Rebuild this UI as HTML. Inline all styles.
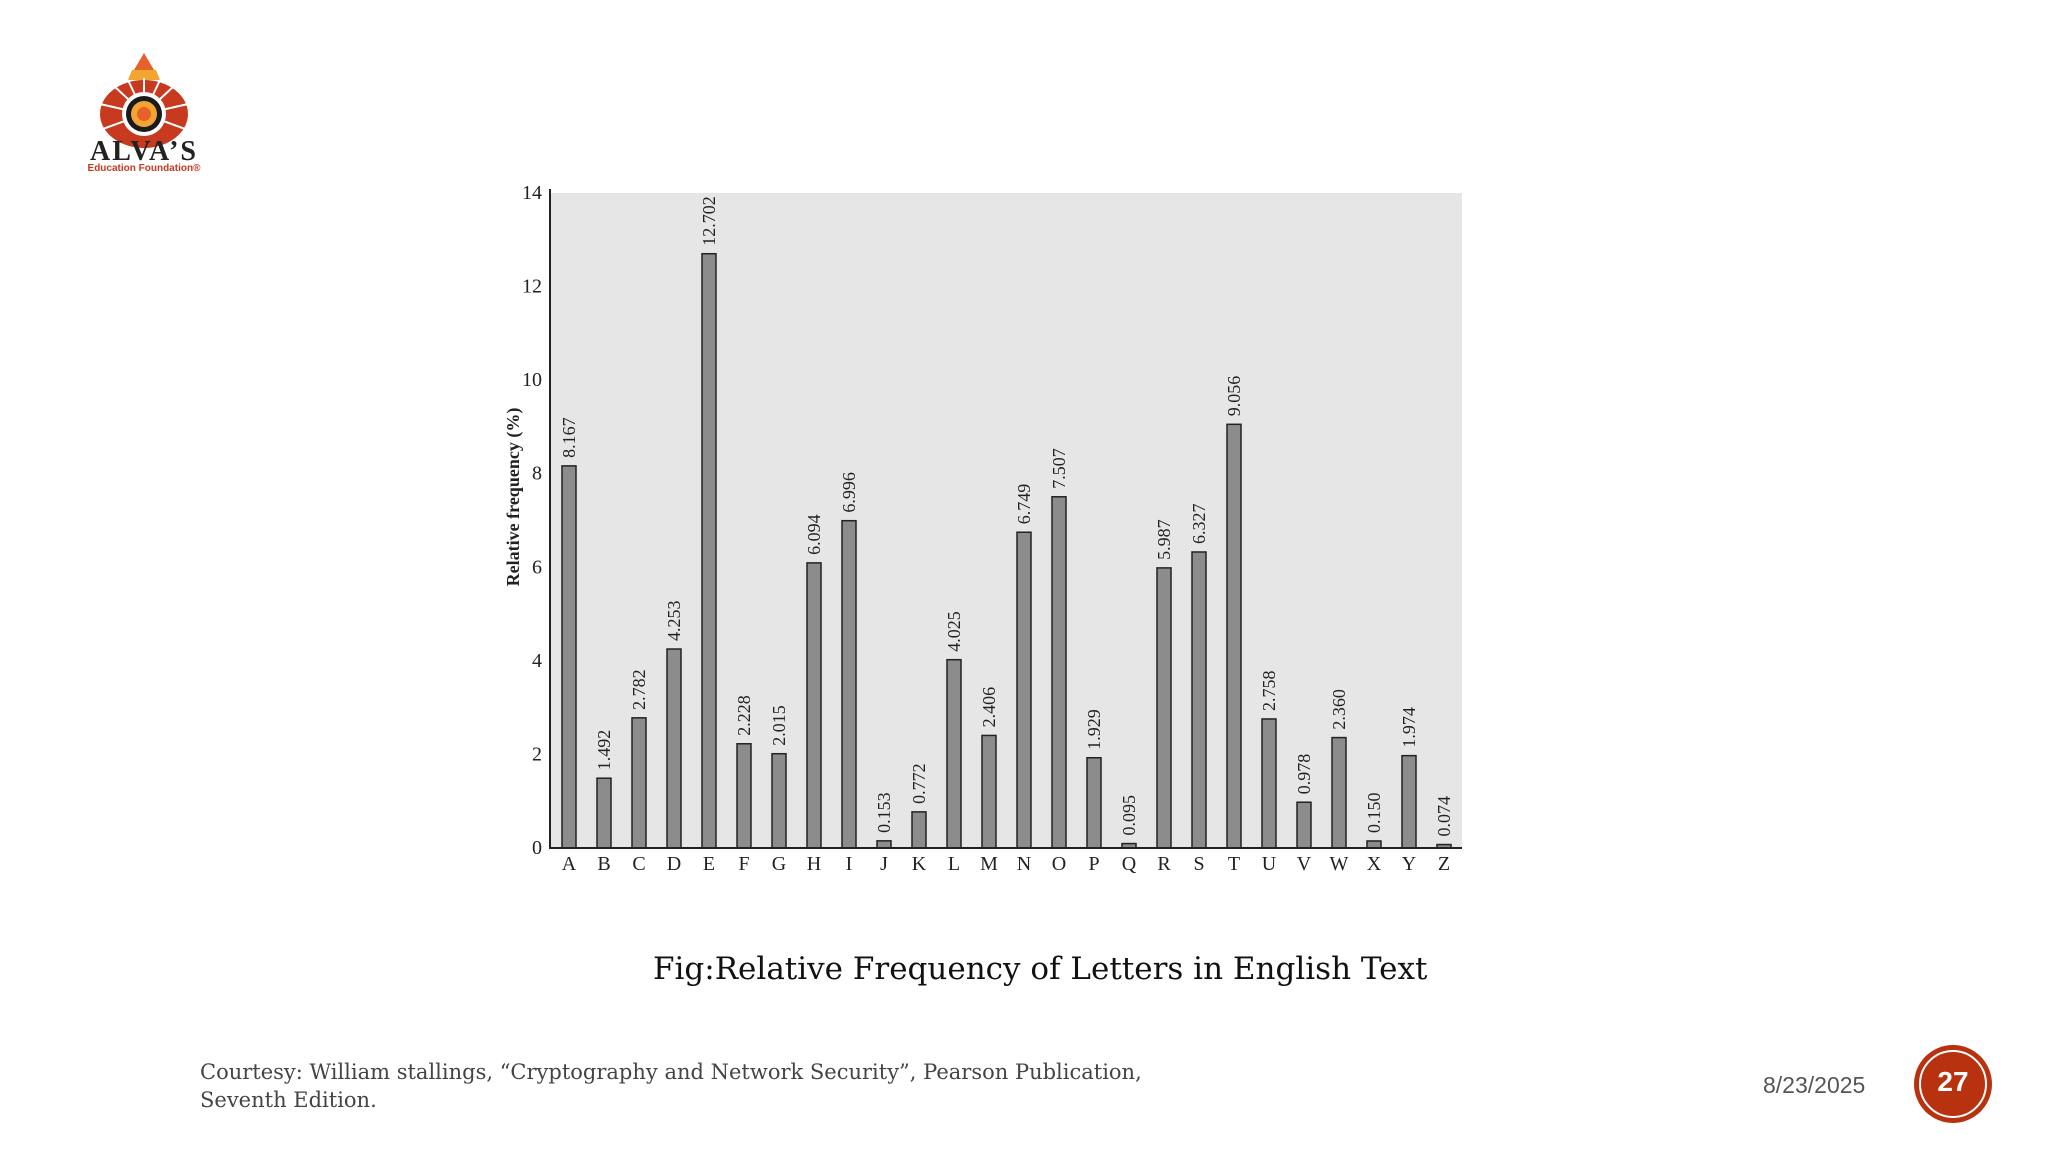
<!DOCTYPE html>
<html><head><meta charset="utf-8"><style>
body{margin:0;width:2048px;height:1152px;background:#fff;overflow:hidden;position:relative;font-family:"Liberation Serif",serif}
.abs{position:absolute}
</style></head><body>
<div class="abs" style="left:66px;top:48px;width:160px;height:126px">
<svg width="160" height="126" viewBox="0 0 160 126">
<polygon points="78,5 68,22 88,22" fill="#e8602a"/>
<polygon points="66,22 90,22 94,32 62,32" fill="#f2a531"/>
<ellipse cx="78" cy="66" rx="44" ry="34" fill="#c83a1f"/>
<g stroke="#fff" stroke-width="2">
<line x1="78" y1="66" x2="78" y2="30"/><line x1="78" y1="66" x2="48" y2="38"/><line x1="78" y1="66" x2="108" y2="38"/>
<line x1="78" y1="66" x2="34" y2="56"/><line x1="78" y1="66" x2="122" y2="56"/><line x1="78" y1="66" x2="34" y2="82"/><line x1="78" y1="66" x2="122" y2="82"/>
<line x1="78" y1="66" x2="62" y2="32"/><line x1="78" y1="66" x2="94" y2="32"/></g>
<circle cx="78" cy="66" r="22" fill="#fff"/><circle cx="78" cy="66" r="18" fill="#1a1a1a"/><circle cx="78" cy="66" r="13" fill="#f2a531"/><circle cx="78" cy="66" r="7" fill="#e8602a"/>
<text x="78" y="112" text-anchor="middle" font-family="Liberation Serif" font-weight="bold" font-size="28" letter-spacing="2" fill="#222">ALVA’S</text>
<text x="78" y="123" text-anchor="middle" font-family="Liberation Sans" font-weight="bold" font-size="10" fill="#c83a1f">Education Foundation®</text>
</svg></div>
<svg id="chart" class="abs" style="left:0;top:0" width="2048" height="1152"></svg>
<div class="abs" style="left:653px;top:951px;font-family:'DejaVu Serif',serif;font-size:31px;color:#111;white-space:nowrap">Fig:Relative Frequency of Letters in English Text</div>
<div class="abs" style="left:200px;top:1058px;font-family:'DejaVu Serif',serif;font-size:21px;line-height:28px;color:#444;white-space:nowrap">Courtesy: William stallings, “Cryptography and Network Security”, Pearson Publication,<br>Seventh Edition.</div>
<div class="abs" style="left:1763px;top:1072px;font-family:'Liberation Sans',sans-serif;font-size:23px;color:#555">8/23/2025</div>
<div class="abs" style="left:1915px;top:1046px;width:76px;height:76px;border-radius:50%;background:#b8320f;box-shadow:0 0 0 1px #b8320f">
<div style="position:absolute;inset:4px;border:2px solid #fff;border-radius:50%"></div>
<div style="position:absolute;width:76px;top:20px;text-align:center;color:#fff;font-weight:bold;font-size:28px;font-family:'Liberation Sans',sans-serif">27</div></div>
<script>
const letters=["A","B","C","D","E","F","G","H","I","J","K","L","M","N","O","P","Q","R","S","T","U","V","W","X","Y","Z"];
const freqs=[8.167,1.492,2.782,4.253,12.702,2.228,2.015,6.094,6.996,0.153,0.772,4.025,2.406,6.749,7.507,1.929,0.095,5.987,6.327,9.056,2.758,0.978,2.360,0.150,1.974,0.074];
const valueLabels=["8.167","1.492","2.782","4.253","12.702","2.228","2.015","6.094","6.996","0.153","0.772","4.025","2.406","6.749","7.507","1.929","0.095","5.987","6.327","9.056","2.758","0.978","2.360","0.150","1.974","0.074"];
const yTicks=[0,2,4,6,8,10,12,14];
const svg=document.getElementById('chart');const NS='http://www.w3.org/2000/svg';
const x0=550,x1=1462,y0=848,yTop=193,yMax=14;
const y=v=>y0-(v/yMax)*(y0-yTop);
const xc=i=>569+i*35;
function mk(t,a){const e=document.createElementNS(NS,t);for(const k in a)e.setAttribute(k,a[k]);svg.appendChild(e);return e;}
let bg=mk('rect',{x:x0,y:yTop,width:x1-x0,height:y0-yTop,fill:'#e6e6e6'});


yTicks.forEach(t=>{const e=mk('text',{x:x0-8,y:y(t)+6,'text-anchor':'end','font-size':20,fill:'#222','font-family':'Liberation Serif'});e.textContent=t;

});
freqs.forEach((v,i)=>{const b=mk('rect',{x:xc(i)-7,y:y(v),width:14,height:y0-y(v),fill:'#8c8c8c',stroke:'#222','stroke-width':1.5});


const tx=xc(i)+6,ty=y(v)-8;
const l=mk('text',{x:tx,y:ty,transform:`rotate(-90 ${tx} ${ty})`,'font-size':18,fill:'#222','font-family':'Liberation Serif'});l.textContent=valueLabels[i];


const c=mk('text',{x:xc(i),y:y0+22,'text-anchor':'middle','font-size':20,fill:'#222','font-family':'Liberation Serif'});c.textContent=letters[i];

});
let ax=mk('path',{d:`M${x0} ${yTop-4}V${y0}H${x1}`,fill:'none',stroke:'#222','stroke-width':2});


let yl=mk('text',{x:519,y:497,transform:'rotate(-90 519 497)','text-anchor':'middle','font-size':18,'font-weight':'bold',fill:'#222','font-family':'Liberation Serif'});yl.textContent='Relative frequency (%)';


</script>
</body></html>
